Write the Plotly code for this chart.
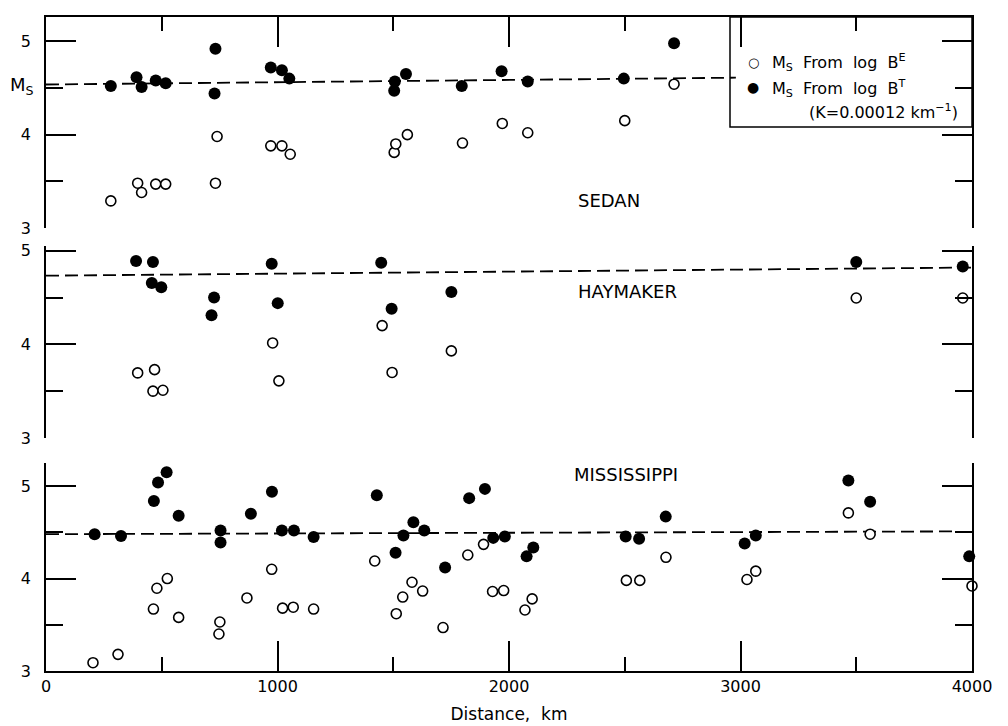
import plotly.graph_objects as go

# ---------------- data ----------------
# SEDAN
sedan_dist_E = [280, 396, 413, 474, 517, 732, 739, 971, 1019, 1055, 1504, 1511, 1561, 1799, 1971, 2081, 2500, 2713]
sedan_ms_E   = [3.29, 3.48, 3.38, 3.47, 3.47, 3.48, 3.98, 3.88, 3.88, 3.79, 3.81, 3.90, 4.00, 3.91, 4.12, 4.02, 4.15, 4.54]
sedan_dist_T = [280, 391, 413, 474, 517, 728, 732, 971, 1019, 1051, 1504, 1507, 1555, 1796, 1968, 2081, 2496, 2713]
sedan_ms_T   = [4.52, 4.615, 4.51, 4.58, 4.55, 4.44, 4.92, 4.72, 4.69, 4.60, 4.47, 4.57, 4.65, 4.52, 4.68, 4.57, 4.60, 4.98]
sedan_fit_dist = [0, 2980]
sedan_fit_ms   = [4.537, 4.61]

# HAYMAKER
hay_dist_E = [396, 462, 469, 505, 979, 1006, 1452, 1495, 1751, 3500, 3960]
hay_ms_E   = [3.695, 3.50, 3.73, 3.51, 4.015, 3.61, 4.20, 3.70, 3.93, 4.495, 4.495]
hay_dist_T = [389, 457, 462, 498, 715, 726, 975, 1001, 1448, 1493, 1751, 3500, 3960]
hay_ms_T   = [4.89, 4.655, 4.88, 4.61, 4.31, 4.50, 4.86, 4.44, 4.87, 4.38, 4.56, 4.88, 4.83]
hay_fit_dist = [0, 4000]
hay_fit_ms   = [4.733, 4.82]

# MISSISSIPPI
mis_dist_E = [203, 311, 464, 479, 524, 573, 747, 751, 868, 975, 1022, 1068, 1156, 1420, 1513, 1541,
              1581, 1627, 1715, 1822, 1890, 1929, 1977, 2069, 2100, 2507, 2565, 2678, 3028, 3066,
              3466, 3560, 4000]
mis_ms_E   = [3.09, 3.18, 3.67, 3.895, 4.00, 3.58, 3.40, 3.53, 3.79, 4.10, 3.68, 3.69, 3.67, 4.19, 3.62, 3.80,
              3.96, 3.865, 3.47, 4.255, 4.37, 3.86, 3.87, 3.66, 3.78, 3.98, 3.98, 4.23, 3.99, 4.08,
              4.71, 4.48, 3.92]
mis_dist_T = [210, 324, 466, 484, 521, 573, 754, 754, 885, 976, 1019, 1071, 1156, 1429, 1510, 1544,
              1587, 1634, 1724, 1828, 1896, 1932, 1982, 2076, 2105, 2504, 2562, 2677, 3018, 3066,
              3466, 3560, 3988]
mis_ms_T   = [4.48, 4.46, 4.84, 5.04, 5.15, 4.68, 4.52, 4.39, 4.70, 4.94, 4.52, 4.52, 4.45, 4.90, 4.28, 4.465,
              4.61, 4.52, 4.12, 4.87, 4.97, 4.44, 4.455, 4.24, 4.335, 4.455, 4.43, 4.67, 4.38, 4.465,
              5.06, 4.83, 4.24]
mis_fit_dist = [0, 3930]
mis_fit_ms   = [4.48, 4.51]

panel_names = ["SEDAN", "HAYMAKER", "MISSISSIPPI"]
y_tick_major = [3, 4, 5]
x_tick_major = [0, 1000, 2000, 3000, 4000]

# ---------------- layout geometry ----------------
# the page body adds an 8 px margin around the figure
OFF = 8
W, H = 1008 - OFF, 726 - OFF
ML, MR, MT, MB = 46 - OFF, 36, 17 - OFF, 55
PW, PH = W - ML - MR, H - MT - MB
FONT = "DejaVu Sans"


def px_y(p):
    return (OFF + MT + PH - p) / PH


def px_x(p):
    return (p - OFF - ML) / PW


fig = go.Figure()


def add_panel(xa, ya, dE, mE, dT, mT, fx, fy):
    fig.add_trace(go.Scatter(x=fx, y=fy, mode="lines", xaxis=xa, yaxis=ya,
                             line=dict(color="black", width=1.8, dash="13px,6px"),
                             showlegend=False, hoverinfo="skip"))
    fig.add_trace(go.Scatter(x=dE, y=mE, mode="markers", xaxis=xa, yaxis=ya, cliponaxis=False,
                             marker=dict(symbol="circle", size=10, color="white",
                                         line=dict(color="black", width=1.6)),
                             showlegend=False))
    fig.add_trace(go.Scatter(x=dT, y=mT, mode="markers", xaxis=xa, yaxis=ya, cliponaxis=False,
                             marker=dict(symbol="circle", size=12, color="black",
                                         line=dict(width=0)),
                             showlegend=False))


add_panel("x2", "y", sedan_dist_E, sedan_ms_E, sedan_dist_T, sedan_ms_T, sedan_fit_dist, sedan_fit_ms)
add_panel("x3", "y2", hay_dist_E, hay_ms_E, hay_dist_T, hay_ms_T, hay_fit_dist, hay_fit_ms)
add_panel("x", "y3", mis_dist_E, mis_ms_E, mis_dist_T, mis_ms_T, mis_fit_dist, mis_fit_ms)

tickfont = dict(family=FONT, size=16, color="black")


def yaxis_style(domain, rng, minor_vals, anchor):
    return dict(domain=domain, range=rng, anchor=anchor,
                tickmode="array", tickvals=y_tick_major, ticktext=[str(v) for v in y_tick_major],
                ticks="inside", ticklen=30, tickwidth=1.5, tickcolor="black",
                showline=True, linewidth=1.8, linecolor="black", mirror="ticks",
                showgrid=False, zeroline=False, tickfont=tickfont,
                ticklabelposition="outside", ticklabelstandoff=10,
                automargin=False,
                minor=dict(tickmode="array", tickvals=minor_vals, ticks="inside", ticklen=17,
                           tickwidth=1.5, tickcolor="black", showgrid=False))


xcommon = dict(range=[0, 4000], showgrid=False, zeroline=False, automargin=False)

fig.update_layout(
    width=W, height=H,
    margin=dict(l=ML, r=MR, t=MT, b=MB),
    paper_bgcolor="white", plot_bgcolor="white",
    font=dict(family=FONT, color="black"),
    showlegend=False,
    xaxis=dict(**xcommon, domain=[0, 1], anchor="y3",
               tickmode="array", tickvals=x_tick_major, ticks="inside", ticklen=30, tickwidth=1.5,
               tickcolor="black", showline=True, linewidth=1.8, linecolor="black",
               tickfont=tickfont, ticklabelstandoff=0,
               minor=dict(dtick=500, ticks="inside", ticklen=14, tickwidth=1.5, tickcolor="black"),
               title=dict(text="Distance,\u00a0\u00a0km", font=dict(family=FONT, size=17, color="black"),
                          standoff=13)),
    xaxis2=dict(**xcommon, domain=[0, 1], anchor="y", side="top", matches="x",
                tickmode="array", tickvals=x_tick_major, ticks="inside", ticklen=30, tickwidth=1.5,
                tickcolor="black", showline=True, linewidth=1.8, linecolor="black",
                showticklabels=False,
                minor=dict(dtick=500, ticks="inside", ticklen=14, tickwidth=1.5, tickcolor="black")),
    xaxis3=dict(**xcommon, domain=[0, 1], anchor="y2", matches="x", visible=False),
    yaxis=yaxis_style([px_y(228), 1.0], [3, 5.26], [3.5, 4.5], "x2"),
    yaxis2=yaxis_style([px_y(438), px_y(246)], [3, 5.05], [3.5, 4.5], "x3"),
    yaxis3=yaxis_style([0, px_y(463)], [3, 5.25], [3.5, 4.5, 5.25], "x"),
)

label_font = dict(family=FONT, size=18, color="black")
annotations = [
    dict(text=panel_names[0], x=px_x(576), y=px_y(200), xanchor="left", yanchor="middle"),
    dict(text=panel_names[1], x=px_x(576), y=px_y(291), xanchor="left", yanchor="middle"),
    dict(text=panel_names[2], x=px_x(572), y=px_y(475), xanchor="left", yanchor="middle"),
    dict(text="M<sub>S</sub>", x=px_x(8), y=px_y(86), xanchor="left", yanchor="middle"),
]
for a in annotations:
    a.update(xref="paper", yref="paper", showarrow=False, font=label_font)

leg_font = dict(family=FONT, size=16, color="black")
legend_items = [
    dict(text="\u25CB", x=px_x(753), y=px_y(62), xanchor="center", font=dict(family=FONT, size=13, color="black")),
    dict(text="\u25CF", x=px_x(753), y=px_y(87), xanchor="center", font=dict(family=FONT, size=14, color="black")),
    dict(text="M<sub>S</sub>\u00a0\u00a0From\u00a0\u00a0log\u00a0\u00a0B<sup>E</sup>", x=px_x(770), y=px_y(63),
         xanchor="left", font=leg_font),
    dict(text="M<sub>S</sub>\u00a0\u00a0From\u00a0\u00a0log\u00a0\u00a0B<sup>T</sup>", x=px_x(770), y=px_y(88),
         xanchor="left", font=leg_font),
    dict(text="(K=0.00012\u00a0km<sup>\u22121</sup>)", x=px_x(807), y=px_y(111),
         xanchor="left", font=leg_font),
]
for a in legend_items:
    a.update(xref="paper", yref="paper", showarrow=False, yanchor="middle")

fig.update_layout(annotations=annotations + legend_items)

fig.add_shape(type="rect", xref="paper", yref="paper",
              x0=px_x(730), x1=1.0, y0=px_y(127), y1=1.0,
              line=dict(color="black", width=1.5), fillcolor="rgba(0,0,0,0)")

fig.write_html("out.html")
